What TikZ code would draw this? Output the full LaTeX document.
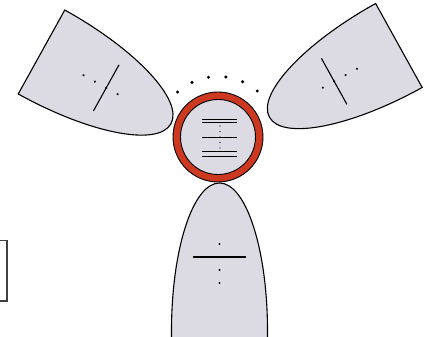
\documentclass[tikz,border=0pt]{standalone}
\usetikzlibrary{arrows.meta}

\definecolor{lobegray}{RGB}{220,218,226}
\definecolor{ringred}{RGB}{204,56,32}

\tikzset{
  lobe/.style={fill=lobegray, draw=black, line width=1.1pt},
  bar/.style={line width=1.1pt, line cap=round},
  spot/.style={fill=black},
}

\begin{document}
\begin{tikzpicture}[x=1pt, y=1pt]
\useasboundingbox (0,0) rectangle (432,337);
% two upper lobes, axis along local x
\foreach \mx/\my/\ang in {41.5/285/-29, 398.9/291.5/209}{
  \begin{scope}[shift={(\mx,\my)}, rotate=\ang]
    \path[lobe] (0,48) arc[start angle=90, end angle=-90, x radius=148, y radius=48] -- cycle;
    \draw[bar] (74,-26) -- (74,26);
    \fill[spot] (48,0) circle (1.2);
    \fill[spot] (61,0) circle (1.2);
    \fill[spot] (74,0) circle (1.2);
    \fill[spot] (87,0) circle (1.2);
  \end{scope}
}
% lower lobe runs off the page
\begin{scope}[shift={(219.5,6)}, rotate=90]
  \path[lobe] (-20,48) -- (0,48) arc[start angle=90, end angle=-90, x radius=148, y radius=48] -- (-20,-48);
  \draw[bar] (74,-26) -- (74,26);
  \fill[spot] (48,0) circle (1.2);
  \fill[spot] (61,0) circle (1.2);
  \fill[spot] (74,0) circle (1.2);
  \fill[spot] (87,0) circle (1.2);
\end{scope}
% centre ring
\draw[fill=ringred, line width=0.9pt] (218,200) circle (45);
\draw[fill=lobegray, line width=0.9pt] (218,200) circle (37.5);
\draw[line width=0.9pt] (202,217.7) -- (237,217.7);
\draw[line width=0.9pt] (202,214.3) -- (237,214.3);
\draw[line width=0.9pt] (202,199.7) -- (237,199.7);
\draw[line width=0.9pt] (202,185.3) -- (237,185.3);
\draw[line width=0.9pt] (202,181) -- (237,181);
\foreach \yy in {211,205.5,200,194.5,189}
  \fill[spot] (220,\yy) circle (0.7);
% dotted arc
\foreach \k in {0,...,5}
  \fill[spot] ({218+60.5*cos(49.5+16.5*\k)},{200+60.5*sin(49.5+16.5*\k)}) circle (1.7);
% box at the left edge
\draw[black!75, line width=1.2pt] (-10,36) rectangle (7,96.3);
\end{tikzpicture}
\end{document}
